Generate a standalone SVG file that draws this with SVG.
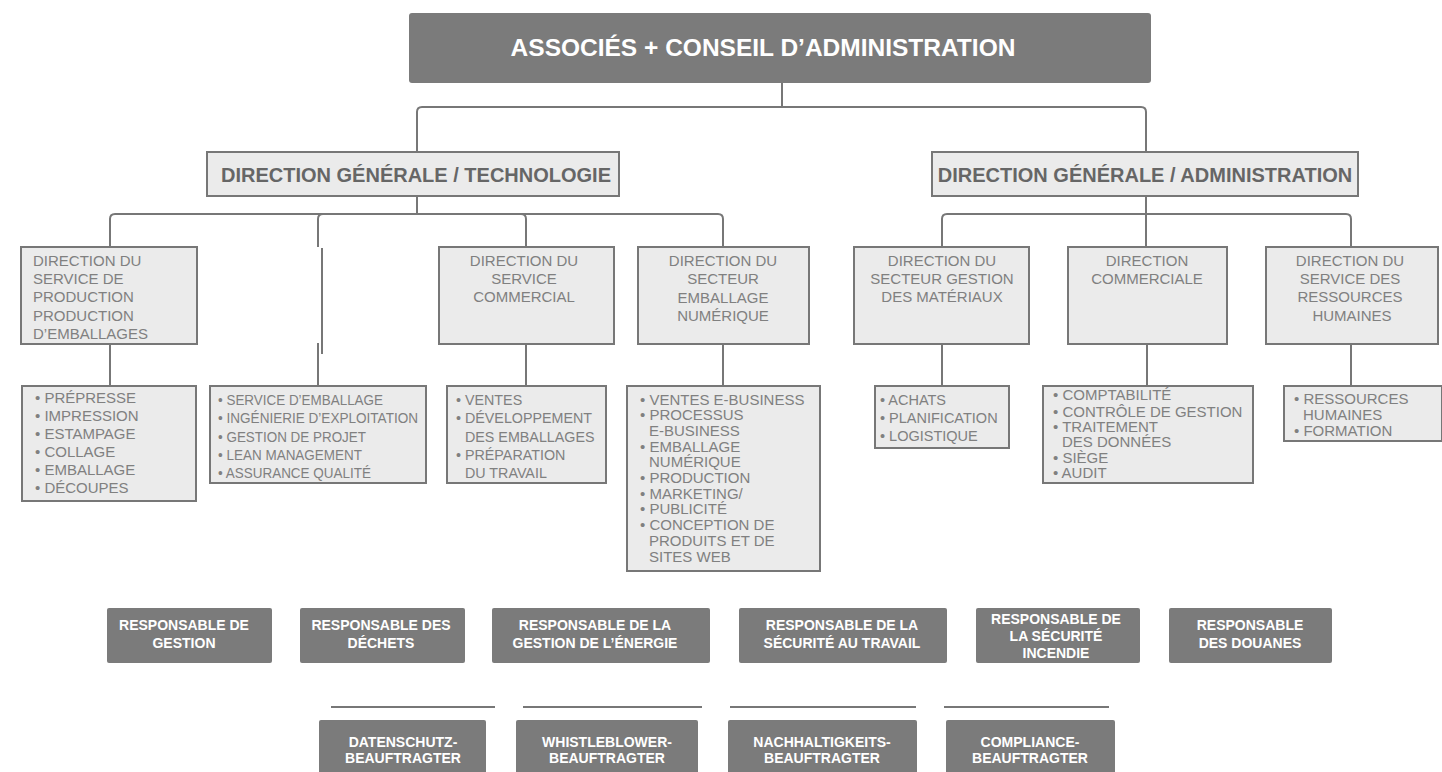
<svg xmlns="http://www.w3.org/2000/svg" width="1442" height="772" viewBox="0 0 1442 772">
<style>
.bg{fill:#ffffff}
.conn{fill:none;stroke:#777777;stroke-width:2}
.dark{fill:#7b7b7b}
.light{fill:#ebebeb;stroke:#777777;stroke-width:2}
text{font-family:"Liberation Sans",Arial,Helvetica,sans-serif}
.t-title{font-weight:bold;font-size:24.5px;fill:#ffffff}
.t-dg{font-weight:bold;font-size:20px;fill:#666666}
.t-box{font-size:15px;fill:#808080}
.t-list{font-size:15px;fill:#808080}
.t-resp{font-weight:bold;font-size:14px;fill:#ffffff;text-anchor:middle}
.mid{text-anchor:middle}
</style>
<rect class="bg" x="0" y="0" width="1442" height="772"/>

<g id="connectors">
  <path class="conn" d="M782 83 V107"/>
  <path class="conn" d="M417 152 V112 Q417 107 422 107 H1141 Q1146 107 1146 112 V152"/>
  <path class="conn" d="M417 196 V214"/>
  <path class="conn" d="M110 248 V219 Q110 214 115 214 H718 Q723 214 723 219 V248"/>
  <path class="conn" d="M318 247 V219 Q318 214 323 214"/>
  <path class="conn" d="M521 214 Q526 214 526 219 V248"/>
  <path class="conn" d="M110 344 V386"/>
  <path class="conn" d="M322 248 V354"/>
  <path class="conn" d="M318 343 V386"/>
  <path class="conn" d="M526 344 V386"/>
  <path class="conn" d="M723 344 V386"/>
  <path class="conn" d="M1146 196 V248"/>
  <path class="conn" d="M942 248 V219 Q942 214 947 214 H1346 Q1351 214 1351 219 V248"/>
  <path class="conn" d="M942 344 V386"/>
  <path class="conn" d="M1147 344 V386"/>
  <path class="conn" d="M1351 344 V386"/>
  <path class="conn" d="M331 707 H495"/>
  <path class="conn" d="M523 707 H702"/>
  <path class="conn" d="M730 707 H916"/>
  <path class="conn" d="M944 707 H1109"/>
</g>

<g id="n-associes">
  <rect class="dark" x="409" y="13" width="742" height="70" rx="3"/>
  <text class="t-title mid" x="763" y="56">ASSOCIÉS + CONSEIL D’ADMINISTRATION</text>
</g>

<g id="n-dg-tech">
  <rect class="light" x="207" y="152" width="412" height="44"/>
  <text class="t-dg" x="221" y="182">DIRECTION GÉNÉRALE / TECHNOLOGIE</text>
</g>

<g id="n-dg-admin">
  <rect class="light" x="932" y="152" width="426" height="44"/>
  <text class="t-dg mid" x="1145" y="182">DIRECTION GÉNÉRALE / ADMINISTRATION</text>
</g>

<g id="n-prod">
  <rect class="light" x="21" y="247" width="176" height="97"/>
  <text class="t-box" x="33" y="266">DIRECTION DU</text>
  <text class="t-box" x="33" y="284">SERVICE DE</text>
  <text class="t-box" x="33" y="302">PRODUCTION</text>
  <text class="t-box" x="33" y="321">PRODUCTION</text>
  <text class="t-box" x="33" y="339">D’EMBALLAGES</text>
</g>

<g id="n-prod-list">
  <rect class="light" x="22" y="386" width="174" height="115"/>
  <text class="t-list" x="35" y="403">• PRÉPRESSE</text>
  <text class="t-list" x="35" y="421">• IMPRESSION</text>
  <text class="t-list" x="35" y="439">• ESTAMPAGE</text>
  <text class="t-list" x="35" y="457">• COLLAGE</text>
  <text class="t-list" x="35" y="475">• EMBALLAGE</text>
  <text class="t-list" x="35" y="493">• DÉCOUPES</text>
</g>

<g id="n-service-list">
  <rect class="light" x="210" y="386" width="216" height="97"/>
  <text class="t-list" x="218" y="405" textLength="165" lengthAdjust="spacingAndGlyphs">• SERVICE D’EMBALLAGE</text>
  <text class="t-list" x="218" y="423" textLength="200" lengthAdjust="spacingAndGlyphs">• INGÉNIERIE D’EXPLOITATION</text>
  <text class="t-list" x="218" y="442" textLength="148" lengthAdjust="spacingAndGlyphs">• GESTION DE PROJET</text>
  <text class="t-list" x="218" y="460" textLength="144" lengthAdjust="spacingAndGlyphs">• LEAN MANAGEMENT</text>
  <text class="t-list" x="218" y="478" textLength="153" lengthAdjust="spacingAndGlyphs">• ASSURANCE QUALITÉ</text>
</g>

<g id="n-commercial">
  <rect class="light" x="439" y="247" width="175" height="97"/>
  <text class="t-box mid" x="524" y="266">DIRECTION DU</text>
  <text class="t-box mid" x="524" y="284">SERVICE</text>
  <text class="t-box mid" x="524" y="302">COMMERCIAL</text>
</g>

<g id="n-commercial-list">
  <rect class="light" x="447" y="386" width="159" height="97"/>
  <text class="t-list" x="456" y="405" style="font-size:14.3px">• VENTES</text>
  <text class="t-list" x="456" y="423" style="font-size:14.3px">• DÉVELOPPEMENT</text>
  <text class="t-list" x="465" y="442" style="font-size:14.3px">DES EMBALLAGES</text>
  <text class="t-list" x="456" y="460" style="font-size:14.3px">• PRÉPARATION</text>
  <text class="t-list" x="465" y="478" style="font-size:14.3px">DU TRAVAIL</text>
</g>

<g id="n-numerique">
  <rect class="light" x="638" y="247" width="171" height="97"/>
  <text class="t-box mid" x="723" y="266">DIRECTION DU</text>
  <text class="t-box mid" x="723" y="284">SECTEUR</text>
  <text class="t-box mid" x="723" y="303">EMBALLAGE</text>
  <text class="t-box mid" x="723" y="321">NUMÉRIQUE</text>
</g>

<g id="n-numerique-list">
  <rect class="light" x="627" y="386" width="193" height="185"/>
  <text class="t-list" x="640" y="405">• VENTES E-BUSINESS</text>
  <text class="t-list" x="640" y="420">• PROCESSUS</text>
  <text class="t-list" x="649" y="436">E-BUSINESS</text>
  <text class="t-list" x="640" y="452">• EMBALLAGE</text>
  <text class="t-list" x="649" y="467">NUMÉRIQUE</text>
  <text class="t-list" x="640" y="483">• PRODUCTION</text>
  <text class="t-list" x="640" y="499">• MARKETING/</text>
  <text class="t-list" x="640" y="514">• PUBLICITÉ</text>
  <text class="t-list" x="640" y="530">• CONCEPTION DE</text>
  <text class="t-list" x="649" y="546">PRODUITS ET DE</text>
  <text class="t-list" x="649" y="562">SITES WEB</text>
</g>

<g id="n-materiaux">
  <rect class="light" x="854" y="247" width="175" height="97"/>
  <text class="t-box mid" x="942" y="266">DIRECTION DU</text>
  <text class="t-box mid" x="942" y="284">SECTEUR GESTION</text>
  <text class="t-box mid" x="942" y="302">DES MATÉRIAUX</text>
</g>

<g id="n-materiaux-list">
  <rect class="light" x="875" y="386" width="134" height="62"/>
  <text class="t-list" x="880" y="405" style="font-size:14.5px">• ACHATS</text>
  <text class="t-list" x="880" y="423" style="font-size:14.5px">• PLANIFICATION</text>
  <text class="t-list" x="880" y="441" style="font-size:14.5px">• LOGISTIQUE</text>
</g>

<g id="n-dir-commerciale">
  <rect class="light" x="1068" y="247" width="159" height="97"/>
  <text class="t-box mid" x="1147" y="266">DIRECTION</text>
  <text class="t-box mid" x="1147" y="284">COMMERCIALE</text>
</g>

<g id="n-dir-commerciale-list">
  <rect class="light" x="1043" y="386" width="210" height="97"/>
  <text class="t-list" x="1053" y="400">• COMPTABILITÉ</text>
  <text class="t-list" x="1053" y="417">• CONTRÔLE DE GESTION</text>
  <text class="t-list" x="1053" y="432">• TRAITEMENT</text>
  <text class="t-list" x="1062" y="447">DES DONNÉES</text>
  <text class="t-list" x="1053" y="463">• SIÈGE</text>
  <text class="t-list" x="1053" y="478">• AUDIT</text>
</g>

<g id="n-rh">
  <rect class="light" x="1266" y="247" width="172" height="97"/>
  <text class="t-box mid" x="1350" y="266">DIRECTION DU</text>
  <text class="t-box mid" x="1350" y="284">SERVICE DES</text>
  <text class="t-box mid" x="1350" y="302">RESSOURCES</text>
  <text class="t-box mid" x="1352" y="321">HUMAINES</text>
</g>

<g id="n-rh-list">
  <rect class="light" x="1284" y="386" width="158" height="55"/>
  <text class="t-list" x="1294" y="404">• RESSOURCES</text>
  <text class="t-list" x="1303" y="420">HUMAINES</text>
  <text class="t-list" x="1294" y="436">• FORMATION</text>
</g>

<g id="n-resp-gestion">
  <rect class="dark" x="107" y="608" width="165" height="55" rx="2"/>
  <text class="t-resp" x="184" y="630">RESPONSABLE DE</text>
  <text class="t-resp" x="184" y="648">GESTION</text>
</g>
<g id="n-resp-dechets">
  <rect class="dark" x="300" y="608" width="165" height="55" rx="2"/>
  <text class="t-resp" x="381" y="630">RESPONSABLE DES</text>
  <text class="t-resp" x="381" y="648">DÉCHETS</text>
</g>
<g id="n-resp-energie">
  <rect class="dark" x="492" y="608" width="218" height="55" rx="2"/>
  <text class="t-resp" x="595" y="630">RESPONSABLE DE LA</text>
  <text class="t-resp" x="595" y="648">GESTION DE L’ÉNERGIE</text>
</g>
<g id="n-resp-securite">
  <rect class="dark" x="739" y="608" width="208" height="55" rx="2"/>
  <text class="t-resp" x="842" y="630">RESPONSABLE DE LA</text>
  <text class="t-resp" x="842" y="648">SÉCURITÉ AU TRAVAIL</text>
</g>
<g id="n-resp-incendie">
  <rect class="dark" x="976" y="608" width="164" height="55" rx="2"/>
  <text class="t-resp" x="1056" y="624">RESPONSABLE DE</text>
  <text class="t-resp" x="1056" y="641">LA SÉCURITÉ</text>
  <text class="t-resp" x="1056" y="658">INCENDIE</text>
</g>
<g id="n-resp-douanes">
  <rect class="dark" x="1169" y="608" width="163" height="55" rx="2"/>
  <text class="t-resp" x="1250" y="630">RESPONSABLE</text>
  <text class="t-resp" x="1250" y="648">DES DOUANES</text>
</g>

<g id="n-datenschutz">
  <rect class="dark" x="319" y="720" width="167" height="60" rx="2"/>
  <text class="t-resp" x="403" y="747">DATENSCHUTZ-</text>
  <text class="t-resp" x="403" y="763">BEAUFTRAGTER</text>
</g>
<g id="n-whistleblower">
  <rect class="dark" x="516" y="720" width="182" height="60" rx="2"/>
  <text class="t-resp" x="607" y="747">WHISTLEBLOWER-</text>
  <text class="t-resp" x="607" y="763">BEAUFTRAGTER</text>
</g>
<g id="n-nachhaltigkeit">
  <rect class="dark" x="728" y="720" width="189" height="60" rx="2"/>
  <text class="t-resp" x="822" y="747">NACHHALTIGKEITS-</text>
  <text class="t-resp" x="822" y="763">BEAUFTRAGTER</text>
</g>
<g id="n-compliance">
  <rect class="dark" x="946" y="720" width="169" height="60" rx="2"/>
  <text class="t-resp" x="1030" y="747">COMPLIANCE-</text>
  <text class="t-resp" x="1030" y="763">BEAUFTRAGTER</text>
</g>
</svg>
